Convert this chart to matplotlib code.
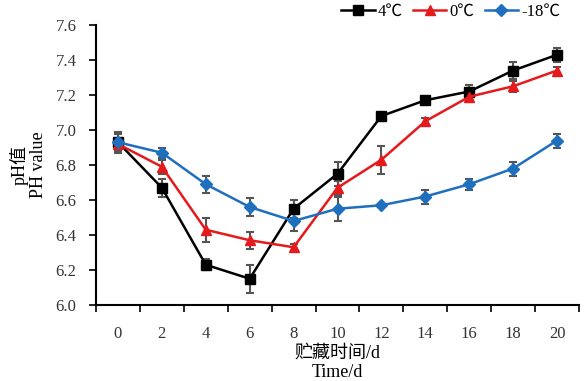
import numpy as np
import matplotlib
matplotlib.use('Agg')
import matplotlib.pyplot as plt

plt.rcParams['font.family'] = ['Liberation Serif', 'Noto Sans CJK SC']

days = ['0', '2', '4', '6', '8', '10', '12', '14', '16', '18', '20']
ph_4 = [6.93, 6.67, 6.23, 6.15, 6.55, 6.75, 7.08, 7.17, 7.22, 7.34, 7.43]
err_4 = [0.06, 0.05, 0.03, 0.08, 0.05, 0.07, 0.01, 0.01, 0.04, 0.05, 0.04]
ph_0 = [6.92, 6.79, 6.43, 6.37, 6.33, 6.67, 6.83, 7.05, 7.19, 7.25, 7.34]
err_0 = [0.03, 0.04, 0.07, 0.05, 0.02, 0.04, 0.08, 0.02, 0.03, 0.03, 0.02]
ph_m18 = [6.93, 6.87, 6.69, 6.56, 6.48, 6.55, 6.57, 6.62, 6.69, 6.78, 6.94]
err_m18 = [0.05, 0.03, 0.05, 0.05, 0.06, 0.07, 0.01, 0.04, 0.03, 0.04, 0.04]

series = [
    ('4℃', ph_4, err_4, 'black', 's', 7),
    ('0℃', ph_0, err_0, '#e41a1c', '^', 7),
    ('-18℃', ph_m18, err_m18, '#1f6fbf', 'D', 6),
]

fig = plt.figure(figsize=(5.87, 3.81), dpi=100)
ax = fig.add_axes([96 / 587, 1 - 305 / 381, 483 / 587, 280 / 381])

x = np.arange(len(days))
for label, y, e, color, marker, ms in series:
    ax.errorbar(x, y, yerr=e, fmt='none', ecolor='#555555', elinewidth=1.5,
                capsize=3, capthick=1.5, zorder=2)
    ax.plot(x, y, color=color, marker=marker, markersize=ms, linewidth=1.8,
            label=label, zorder=3)

ax.set_xlim(-0.5, len(days) - 0.5)
ax.set_ylim(6.0, 7.6)
yt = np.arange(6.0, 7.61, 0.2)
ax.set_yticks(yt)
ax.set_yticklabels([f'{v:.1f}' for v in yt])
ax.set_xticks(x)
ax.set_xticklabels(days)
ax.set_xticks(np.arange(-0.5, len(days), 1), minor=True)
ax.tick_params(axis='x', which='major', length=0, pad=15, labelsize=12, colors='#333333')
ax.tick_params(axis='x', which='minor', length=5, width=1.2, direction='out')
ax.tick_params(axis='y', length=5, width=1.2, direction='out', pad=9,
               labelsize=12, colors='#333333')
ax.tick_params(axis='both', which='both', color='black')
for side in ['top', 'right']:
    ax.spines[side].set_visible(False)
for side in ['left', 'bottom']:
    ax.spines[side].set_linewidth(1.5)

ax.set_xlabel('贮藏时间/d\nTime/d', fontsize=13, linespacing=1.15, labelpad=2)
ax.set_ylabel('pH值\nPH value', fontsize=13, linespacing=1.1, labelpad=6)

ax.legend(loc='center right', bbox_to_anchor=(0.975, 1 + 13 / 280), ncol=3,
          frameon=False, fontsize=12, handlelength=2.0, columnspacing=0.6,
          handletextpad=0.2, borderaxespad=0)

fig.savefig('out.png', dpi=100)
